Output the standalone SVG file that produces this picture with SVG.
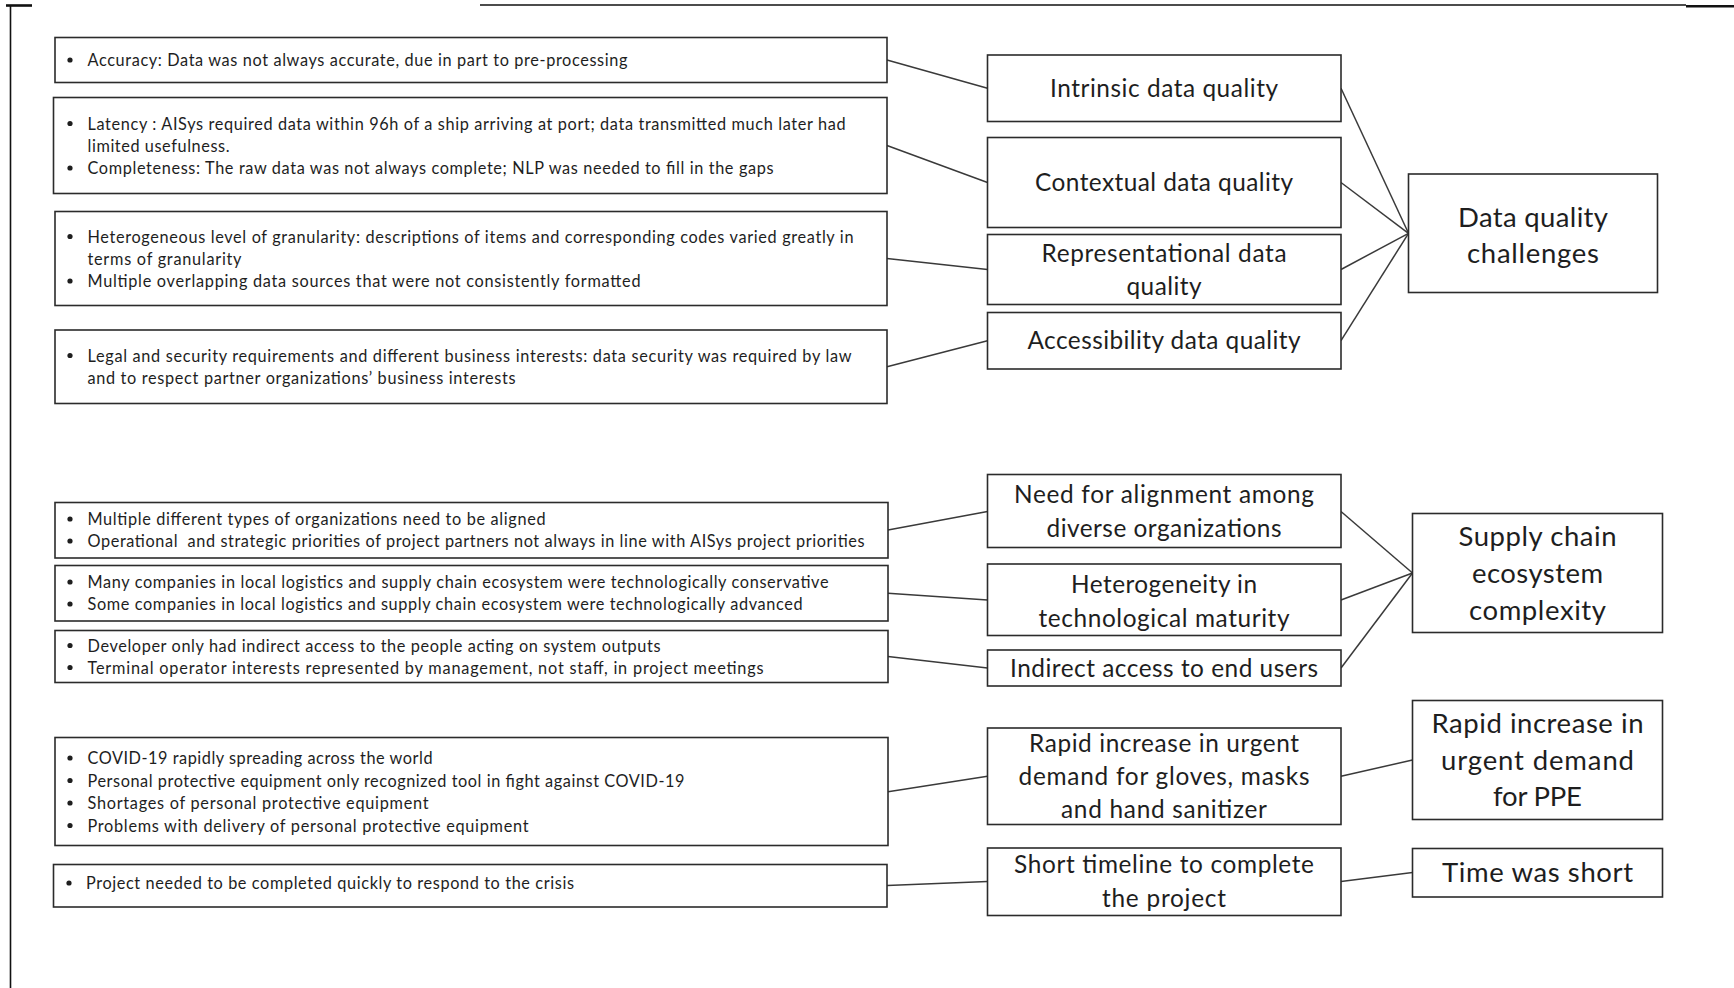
<svg xmlns="http://www.w3.org/2000/svg" width="1734" height="988" viewBox="0 0 1734 988">
  <style>
    .box { fill: #ffffff; stroke: #2b2b2b; stroke-width: 1.6; }
    .link { stroke: #3a3a3a; stroke-width: 1.5; fill: none; }
    .frame { stroke: #111111; fill: none; }
    .item { font-family: Lato, "Open Sans", "Liberation Sans", sans-serif; font-size: 16.3px; fill: #1e1e1e; }
    .mid { font-family: Lato, "Open Sans", "Liberation Sans", sans-serif; font-size: 24.4px; fill: #1e1e1e; text-anchor: middle; }
    .big { font-family: Lato, "Open Sans", "Liberation Sans", sans-serif; font-size: 27.5px; fill: #1e1e1e; text-anchor: middle; }
    .dot { fill: #1e1e1e; }
  </style>

  <!-- page frame remnants -->
  <g id="frame">
    <line class="frame" x1="10.5" y1="5" x2="10.5" y2="988" stroke-width="1.6"/>
    <line class="frame" x1="6" y1="5.5" x2="32" y2="5.5" stroke-width="2.6"/>
    <line class="frame" x1="480" y1="5" x2="1686" y2="5" stroke-width="1.3"/>
    <line class="frame" x1="1686" y1="6.2" x2="1734" y2="6.2" stroke-width="2.6"/>
  </g>

  <!-- connectors -->
  <g id="connectors">
    <line class="link" x1="887" y1="60" x2="987.5" y2="88.3"/>
    <line class="link" x1="887" y1="145.5" x2="987.5" y2="182.5"/>
    <line class="link" x1="887" y1="258.5" x2="987.5" y2="269.5"/>
    <line class="link" x1="887" y1="366.7" x2="987.5" y2="340.7"/>
    <line class="link" x1="1341" y1="88.3" x2="1408.5" y2="233.3"/>
    <line class="link" x1="1341" y1="182.5" x2="1408.5" y2="233.3"/>
    <line class="link" x1="1341" y1="269.5" x2="1408.5" y2="233.3"/>
    <line class="link" x1="1341" y1="340.7" x2="1408.5" y2="233.3"/>
    <line class="link" x1="888" y1="530" x2="987.5" y2="511.5"/>
    <line class="link" x1="888" y1="593.3" x2="987.5" y2="600"/>
    <line class="link" x1="888" y1="656.5" x2="987.5" y2="668"/>
    <line class="link" x1="1341" y1="511.5" x2="1412.5" y2="573"/>
    <line class="link" x1="1341" y1="600" x2="1412.5" y2="573"/>
    <line class="link" x1="1341" y1="668" x2="1412.5" y2="573"/>
    <line class="link" x1="888" y1="791.7" x2="987.5" y2="776.3"/>
    <line class="link" x1="887" y1="885.5" x2="987.5" y2="881.5"/>
    <line class="link" x1="1341" y1="776.3" x2="1412.5" y2="760"/>
    <line class="link" x1="1341" y1="881.5" x2="1412.5" y2="872.5"/>
  </g>

  <!-- detail boxes (left column) -->
  <g id="accuracy">
    <rect class="box" x="55" y="37.5" width="832" height="45"/>
    <circle class="dot" cx="70" cy="60" r="2.6"/>
    <text class="item" x="87.5" y="66" textLength="540">Accuracy: Data was not always accurate, due in part to pre-processing</text>
  </g>
  <g id="latency-completeness">
    <rect class="box" x="53.5" y="97.5" width="833.5" height="96"/>
    <circle class="dot" cx="70" cy="123.5" r="2.6"/>
    <circle class="dot" cx="70" cy="168" r="2.6"/>
    <text class="item" x="87.5" y="129.5" textLength="758">Latency : AISys required data within 96h of a ship arriving at port; data transmitted much later had</text>
    <text class="item" x="87.5" y="151.5" textLength="142">limited usefulness.</text>
    <text class="item" x="87.5" y="174" textLength="686">Completeness: The raw data was not always complete; NLP was needed to fill in the gaps</text>
  </g>
  <g id="granularity-sources">
    <rect class="box" x="55" y="211.5" width="832" height="94"/>
    <circle class="dot" cx="70" cy="236.5" r="2.6"/>
    <circle class="dot" cx="70" cy="281" r="2.6"/>
    <text class="item" x="87.5" y="242.5" textLength="766">Heterogeneous level of granularity: descriptions of items and corresponding codes varied greatly in</text>
    <text class="item" x="87.5" y="264.5" textLength="154">terms of granularity</text>
    <text class="item" x="87.5" y="287" textLength="553">Multiple overlapping data sources that were not consistently formatted</text>
  </g>
  <g id="legal-security">
    <rect class="box" x="55" y="330" width="832" height="73.5"/>
    <circle class="dot" cx="70" cy="355.5" r="2.6"/>
    <text class="item" x="87.5" y="361.5" textLength="764">Legal and security requirements and different business interests: data security was required by law</text>
    <text class="item" x="87.5" y="383.5" textLength="428">and to respect partner organizations’ business interests</text>
  </g>
  <g id="organizations">
    <rect class="box" x="55" y="502.5" width="833" height="55.5"/>
    <circle class="dot" cx="70" cy="519" r="2.6"/>
    <circle class="dot" cx="70" cy="541" r="2.6"/>
    <text class="item" x="87.5" y="525" textLength="458">Multiple different types of organizations need to be aligned</text>
    <text class="item" x="87.5" y="547" textLength="777" xml:space="preserve">Operational  and strategic priorities of project partners not always in line with AISys project priorities</text>
  </g>
  <g id="companies">
    <rect class="box" x="55" y="565.5" width="833" height="55.5"/>
    <circle class="dot" cx="70" cy="582" r="2.6"/>
    <circle class="dot" cx="70" cy="604" r="2.6"/>
    <text class="item" x="87.5" y="588" textLength="741">Many companies in local logistics and supply chain ecosystem were technologically conservative</text>
    <text class="item" x="87.5" y="610" textLength="715">Some companies in local logistics and supply chain ecosystem were technologically advanced</text>
  </g>
  <g id="developer-access">
    <rect class="box" x="55" y="630.5" width="833" height="52"/>
    <circle class="dot" cx="70" cy="645.5" r="2.6"/>
    <circle class="dot" cx="70" cy="667.5" r="2.6"/>
    <text class="item" x="87.5" y="651.5" textLength="573">Developer only had indirect access to the people acting on system outputs</text>
    <text class="item" x="87.5" y="673.5" textLength="676">Terminal operator interests represented by management, not staff, in project meetings</text>
  </g>
  <g id="covid">
    <rect class="box" x="55" y="737.5" width="833" height="108"/>
    <circle class="dot" cx="70" cy="758" r="2.6"/>
    <circle class="dot" cx="70" cy="780.5" r="2.6"/>
    <circle class="dot" cx="70" cy="803" r="2.6"/>
    <circle class="dot" cx="70" cy="825.5" r="2.6"/>
    <text class="item" x="87.5" y="764" textLength="345">COVID-19 rapidly spreading across the world</text>
    <text class="item" x="87.5" y="786.5" textLength="597">Personal protective equipment only recognized tool in fight against COVID-19</text>
    <text class="item" x="87.5" y="809" textLength="341">Shortages of personal protective equipment</text>
    <text class="item" x="87.5" y="831.5" textLength="441">Problems with delivery of personal protective equipment</text>
  </g>
  <g id="crisis">
    <rect class="box" x="53.5" y="864.5" width="833.5" height="42.5"/>
    <circle class="dot" cx="69" cy="883" r="2.6"/>
    <text class="item" x="86" y="889" textLength="488">Project needed to be completed quickly to respond to the crisis</text>
  </g>

  <!-- category boxes (middle column) -->
  <g id="intrinsic">
    <rect class="box" x="987.5" y="55" width="353.5" height="66.5"/>
    <text class="mid" x="1164" y="97" textLength="228">Intrinsic data quality</text>
  </g>
  <g id="contextual">
    <rect class="box" x="987.5" y="137.5" width="353.5" height="90"/>
    <text class="mid" x="1164" y="191" textLength="258">Contextual data quality</text>
  </g>
  <g id="representational">
    <rect class="box" x="987.5" y="234.5" width="353.5" height="70"/>
    <text class="mid" x="1164" y="261.5" textLength="245">Representational data</text>
    <text class="mid" x="1164" y="295" textLength="75">quality</text>
  </g>
  <g id="accessibility">
    <rect class="box" x="987.5" y="312.5" width="353.5" height="56.5"/>
    <text class="mid" x="1164" y="349" textLength="273">Accessibility data quality</text>
  </g>
  <g id="alignment">
    <rect class="box" x="987.5" y="474.5" width="353.5" height="73"/>
    <text class="mid" x="1164" y="503" textLength="300">Need for alignment among</text>
    <text class="mid" x="1164" y="537" textLength="235">diverse organizations</text>
  </g>
  <g id="maturity">
    <rect class="box" x="987.5" y="564" width="353.5" height="71.5"/>
    <text class="mid" x="1164" y="593" textLength="186">Heterogeneity in</text>
    <text class="mid" x="1164" y="627" textLength="251">technological maturity</text>
  </g>
  <g id="indirect-access">
    <rect class="box" x="987.5" y="650" width="353.5" height="36"/>
    <text class="mid" x="1164" y="677" textLength="308">Indirect access to end users</text>
  </g>
  <g id="urgent-demand">
    <rect class="box" x="987.5" y="728" width="353.5" height="96.5"/>
    <text class="mid" x="1164" y="751.5" textLength="270">Rapid increase in urgent</text>
    <text class="mid" x="1164" y="785" textLength="291">demand for gloves, masks</text>
    <text class="mid" x="1164" y="818" textLength="206">and hand sanitizer</text>
  </g>
  <g id="short-timeline">
    <rect class="box" x="987.5" y="848" width="353.5" height="67.5"/>
    <text class="mid" x="1164" y="873" textLength="300">Short timeline to complete</text>
    <text class="mid" x="1164" y="907" textLength="124">the project</text>
  </g>

  <!-- challenge boxes (right column) -->
  <g id="data-quality-challenges">
    <rect class="box" x="1408.5" y="174" width="249" height="118.5"/>
    <text class="big" x="1533" y="226.5" textLength="150">Data quality</text>
    <text class="big" x="1533" y="262.5" textLength="132">challenges</text>
  </g>
  <g id="supply-chain-complexity">
    <rect class="box" x="1412.5" y="513.5" width="250" height="119"/>
    <text class="big" x="1537.5" y="546" textLength="158">Supply chain</text>
    <text class="big" x="1537.5" y="583" textLength="131">ecosystem</text>
    <text class="big" x="1537.5" y="620" textLength="137">complexity</text>
  </g>
  <g id="ppe-demand">
    <rect class="box" x="1412.5" y="700.5" width="250" height="119"/>
    <text class="big" x="1537.5" y="733" textLength="212">Rapid increase in</text>
    <text class="big" x="1537.5" y="769.5" textLength="193">urgent demand</text>
    <text class="big" x="1537.5" y="806" textLength="89">for PPE</text>
  </g>
  <g id="time-short">
    <rect class="box" x="1412.5" y="848.5" width="250" height="48.5"/>
    <text class="big" x="1537.5" y="882" textLength="191">Time was short</text>
  </g>
</svg>
